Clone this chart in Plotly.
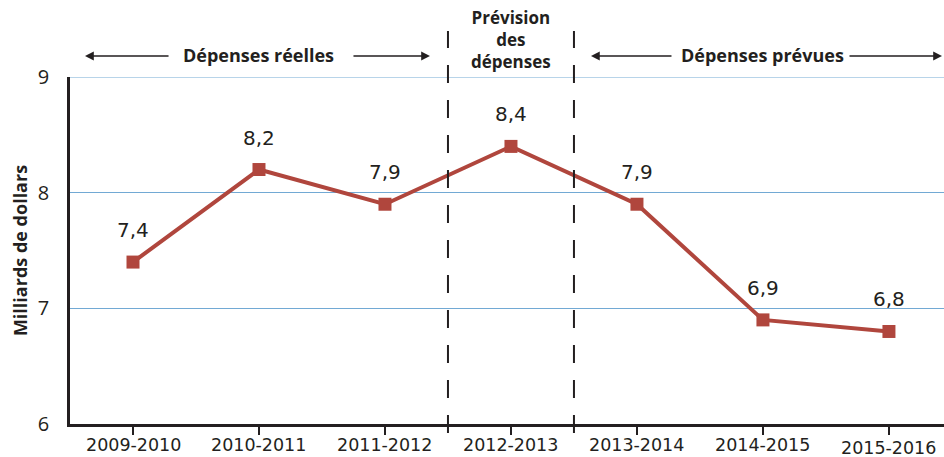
import plotly.graph_objects as go

categories = ["2009-2010", "2010-2011", "2011-2012", "2012-2013", "2013-2014", "2014-2015", "2015-2016"]
values = [7.4, 8.2, 7.9, 8.4, 7.9, 6.9, 6.8]
value_labels = ["7,4", "8,2", "7,9", "8,4", "7,9", "6,9", "6,8"]
y_ticks = [6, 7, 8, 9]

LINE = "#b0463d"
DARK = "#231f20"
GRID = "#72a9d4"
HFONT = "Open Sans"

PLOT_TOP, PLOT_BOTTOM = 77, 424
PLOT_H = PLOT_BOTTOM - PLOT_TOP


def py(pixel_y):
    return (PLOT_BOTTOM - pixel_y) / PLOT_H


fig = go.Figure()
fig.add_trace(go.Scatter(
    x=list(range(len(categories))), y=values,
    mode="lines+markers",
    line=dict(color=LINE, width=4),
    marker=dict(symbol="square", size=13, color=LINE),
    cliponaxis=False, hoverinfo="skip",
))

for i, (v, lab) in enumerate(zip(values, value_labels)):
    fig.add_annotation(x=i, y=v, xref="x", yref="y", text=lab, showarrow=False,
                       yshift=32, font=dict(family="DejaVu Sans", size=20, color=DARK))

# category labels placed under the axis (last one sits slightly lower, as in the source)
for i, cat in enumerate(categories):
    ypx = 447.5 if i == len(categories) - 1 else 445
    fig.add_annotation(x=i, y=py(ypx), xref="x", yref="paper", text=cat, showarrow=False,
                       yanchor="middle", font=dict(family="DejaVu Sans", size=17.5, color=DARK))

# top gridline at 9
fig.add_shape(type="line", xref="paper", yref="y", x0=0, x1=1, y0=9, y1=9,
              line=dict(color=GRID, width=1), layer="below")

# dashed separators at the boundaries around 2012-2013
for xb in (2.5, 3.5):
    fig.add_shape(type="line", xref="x", yref="paper", x0=xb, x1=xb, y0=py(433), y1=py(31),
                  line=dict(color=DARK, width=2, dash="18px,17px"), layer="above")

ann_font = dict(family=HFONT, size=18, color=DARK)
fig.add_annotation(x=1, y=py(55), xref="x", yref="paper", text="<b>Dépenses réelles</b>",
                   showarrow=False, font=ann_font, yanchor="middle")
fig.add_annotation(x=5, y=py(55), xref="x", yref="paper", text="<b>Dépenses prévues</b>",
                   showarrow=False, font=ann_font, yanchor="middle")
fig.add_annotation(x=3, y=py(40), xref="x", yref="paper",
                   text="<b>Prévision<br>des<br>dépenses</b>",
                   showarrow=False, font=dict(family=HFONT, size=17, color=DARK),
                   yanchor="middle")

# arrows (tip, tail) in category units
arrows = [(-0.381, 0.294), (2.357, 1.738), (3.635, 4.286), (6.421, 5.675)]
for tip, tail in arrows:
    fig.add_annotation(x=tip, y=py(56), ax=tail, ay=0, xref="x", yref="paper",
                       axref="x", ayref="pixel", text="", showarrow=True,
                       arrowhead=2, arrowsize=1.1, arrowwidth=1.6, arrowcolor=DARK)

fig.update_layout(
    width=944, height=457,
    margin=dict(l=70, r=0, t=PLOT_TOP, b=457 - PLOT_BOTTOM),
    paper_bgcolor="white", plot_bgcolor="white",
    showlegend=False,
    xaxis=dict(
        range=[-0.5, 6.437], tickmode="array", tickvals=list(range(len(categories))),
        ticktext=categories, tickson="boundaries", ticks="outside", ticklen=8,
        tickwidth=1.5, tickcolor=DARK, showline=True, linecolor=DARK, linewidth=2.5,
        showgrid=False, zeroline=False, automargin=False, showticklabels=False,
    ),
    yaxis=dict(
        range=[6, 9], tickvals=y_ticks, ticktext=[str(v) for v in y_ticks],
        showline=True, linecolor=DARK, linewidth=2.5, ticks="",
        showgrid=True, gridcolor=GRID, gridwidth=1, zeroline=False, automargin=False,
        ticklabelstandoff=14,
        tickfont=dict(family="Open Sans", size=20, color=DARK),
        title=dict(text="<b>Milliards de dollars</b>", standoff=6,
                   font=dict(family=HFONT, size=18, color=DARK)),
    ),
)

fig.write_html("out.html")
